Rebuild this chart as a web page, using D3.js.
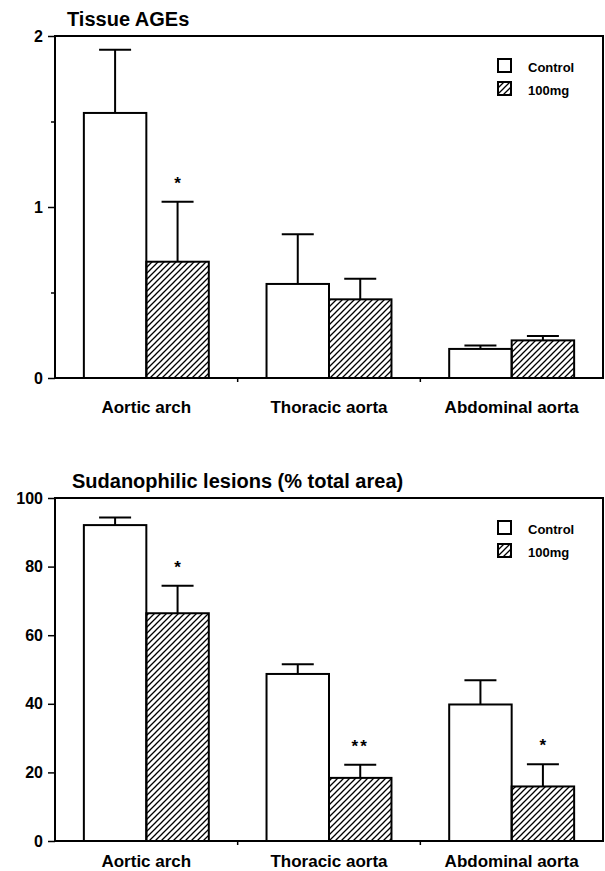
<!DOCTYPE html>
<html>
<head>
<meta charset="utf-8">
<script src="https://cdn.jsdelivr.net/npm/d3@7"></script>
<style>
  body { margin: 0; background: #fff; }
  svg { display: block; font-family: "Liberation Sans", Arial, Helvetica, sans-serif; }
</style>
</head>
<body>
<div id="chart"></div>
<script>
// categories and groups shared by both panels
var categories = ["Aortic arch", "Thoracic aorta", "Abdominal aorta"];
var groups = ["Control", "100mg"];

// Tissue AGEs (top panel)
var agesControl = [1.55, 0.55, 0.17];
var agesControlErr = [0.37, 0.29, 0.02];
var ages100 = [0.68, 0.46, 0.22];
var ages100Err = [0.35, 0.12, 0.025];
var agesSig = ["*", "", ""];
var agesTicks = [0, 1, 2];
var agesMinorTicks = [0.5, 1.5];

// Sudanophilic lesions (bottom panel)
var sudanControl = [92.1, 48.7, 39.8];
var sudanControlErr = [2.2, 2.8, 7.1];
var sudan100 = [66.4, 18.4, 15.9];
var sudan100Err = [8.0, 3.8, 6.5];
var sudanSig = ["*", "**", "*"];
var sudanTicks = [0, 20, 40, 60, 80, 100];

var W = 605, H = 871;
var left = 55, right = 603;

var svg = d3.select("#chart")
    .append("svg")
    .attr("width", W)
    .attr("height", H);

// hatch pattern for the 100mg bars
var defs = svg.append("defs");
defs.append("pattern")
    .attr("id", "hatch")
    .attr("patternUnits", "userSpaceOnUse")
    .attr("width", 6)
    .attr("height", 6)
    .append("path")
    .attr("d", "M-1,1 L1,-1 M0,6 L6,0 M5,7 L7,5")
    .attr("stroke", "#000")
    .attr("stroke-width", 1.3);

function drawPanel(opt) {
    var g = svg.append("g");

    var x = d3.scaleBand()
        .domain(categories)
        .range([left, right])
        .paddingInner(0.316)
        .paddingOuter(0.158);

    var xg = d3.scaleBand()
        .domain(groups)
        .range([0, x.bandwidth()]);

    var y = d3.scaleLinear()
        .domain(opt.domain)
        .range([opt.bottom, opt.top]);

    var rows = categories.map(function(c, i) {
        return [
            { cat: c, grp: groups[0], v: opt.control[i], e: opt.controlErr[i], sig: "" },
            { cat: c, grp: groups[1], v: opt.dose[i], e: opt.doseErr[i], sig: opt.sig[i] }
        ];
    }).flat();

    // title
    g.append("text")
        .attr("x", opt.titleX)
        .attr("y", opt.titleY)
        .style("font-size", "20px")
        .style("font-weight", "bold")
        .text(opt.title);

    // error bars (drawn first so bar outline sits on top)
    var eb = g.selectAll(".err")
        .data(rows)
        .enter()
        .append("g")
        .attr("class", "err")
        .attr("stroke", "#000")
        .attr("stroke-width", 2);

    eb.append("line")
        .attr("x1", d => x(d.cat) + xg(d.grp) + xg.bandwidth() / 2)
        .attr("x2", d => x(d.cat) + xg(d.grp) + xg.bandwidth() / 2)
        .attr("y1", d => y(d.v))
        .attr("y2", d => y(d.v + d.e));

    eb.append("line")
        .attr("x1", d => x(d.cat) + xg(d.grp) + xg.bandwidth() / 2 - 16)
        .attr("x2", d => x(d.cat) + xg(d.grp) + xg.bandwidth() / 2 + 16)
        .attr("y1", d => y(d.v + d.e))
        .attr("y2", d => y(d.v + d.e));

    // bars
    g.selectAll(".bar")
        .data(rows)
        .enter()
        .append("rect")
        .attr("class", "bar")
        .attr("x", d => x(d.cat) + xg(d.grp))
        .attr("y", d => y(d.v))
        .attr("width", xg.bandwidth())
        .attr("height", d => y(0) - y(d.v))
        .attr("fill", d => d.grp === groups[0] ? "#fff" : "url(#hatch)")
        .attr("stroke", "#000")
        .attr("stroke-width", 2);

    // significance stars
    g.selectAll(".sig")
        .data(rows.filter(d => d.sig))
        .enter()
        .append("text")
        .attr("class", "sig")
        .attr("x", d => x(d.cat) + xg(d.grp) + xg.bandwidth() / 2)
        .attr("y", d => y(d.v + d.e) - 13)
        .attr("text-anchor", "middle")
        .style("font-size", "17px")
        .style("font-weight", "bold")
        .style("letter-spacing", d => d.sig.length > 1 ? "2px" : "0px")
        .text(d => d.sig);

    // frame
    g.append("rect")
        .attr("x", left)
        .attr("y", opt.top)
        .attr("width", right - left)
        .attr("height", opt.bottom - opt.top)
        .attr("fill", "none")
        .attr("stroke", "#000")
        .attr("stroke-width", 2);

    // y axis
    var yAxis = g.append("g")
        .attr("transform", "translate(" + left + ",0)")
        .call(d3.axisLeft(y).tickValues(opt.ticks).tickSize(7).tickPadding(5).tickFormat(d3.format("d")));
    yAxis.select(".domain").remove();
    yAxis.selectAll("text")
        .attr("fill", "#000")
        .style("font-size", "16px")
        .style("font-weight", "bold");
    yAxis.selectAll("line").attr("stroke-width", 1.5);

    if (opt.minor) {
        var yMinor = g.append("g")
            .attr("transform", "translate(" + left + ",0)")
            .call(d3.axisLeft(y).tickValues(opt.minor).tickSize(4).tickFormat(""));
        yMinor.select(".domain").remove();
        yMinor.selectAll("line").attr("stroke-width", 1.5);
    }

    // x axis ticks at group boundaries
    var bounds = categories.slice(1).map(c => x(c) - x.step() * x.paddingInner() / 2);
    g.selectAll(".xtick")
        .data(bounds)
        .enter()
        .append("line")
        .attr("x1", d => d)
        .attr("x2", d => d)
        .attr("y1", opt.bottom)
        .attr("y2", opt.bottom + 4)
        .attr("stroke", "#000")
        .attr("stroke-width", 1.5);

    // category labels
    var xAxis = g.append("g")
        .attr("transform", "translate(0," + opt.bottom + ")")
        .call(d3.axisBottom(x).tickSize(0));
    xAxis.select(".domain").remove();
    xAxis.selectAll("text")
        .attr("y", opt.labelOffset)
        .attr("dy", null)
        .attr("fill", "#000")
        .style("font-size", "17px")
        .style("font-weight", "bold");

    // legend
    var legend = g.selectAll(".legend")
        .data(groups)
        .enter()
        .append("g")
        .attr("class", "legend")
        .attr("transform", (d, i) => "translate(498," + (opt.top + 23 + i * 23) + ")");

    legend.append("rect")
        .attr("width", 13)
        .attr("height", 13)
        .attr("fill", (d, i) => i === 0 ? "#fff" : "url(#hatch)")
        .attr("stroke", "#000")
        .attr("stroke-width", 2);

    legend.append("text")
        .attr("x", 30)
        .attr("y", 13)
        .style("font-size", "13px")
        .style("font-weight", "bold")
        .text(d => d);
}

drawPanel({
    title: "Tissue AGEs", titleX: 67, titleY: 26,
    top: 36, bottom: 378, domain: [0, 2],
    ticks: agesTicks, minor: agesMinorTicks,
    control: agesControl, controlErr: agesControlErr,
    dose: ages100, doseErr: ages100Err, sig: agesSig,
    labelOffset: 35
});

drawPanel({
    title: "Sudanophilic lesions (% total area)", titleX: 72, titleY: 488,
    top: 498, bottom: 841, domain: [0, 100],
    ticks: sudanTicks, minor: null,
    control: sudanControl, controlErr: sudanControlErr,
    dose: sudan100, doseErr: sudan100Err, sig: sudanSig,
    labelOffset: 26
});
</script>
</body>
</html>
